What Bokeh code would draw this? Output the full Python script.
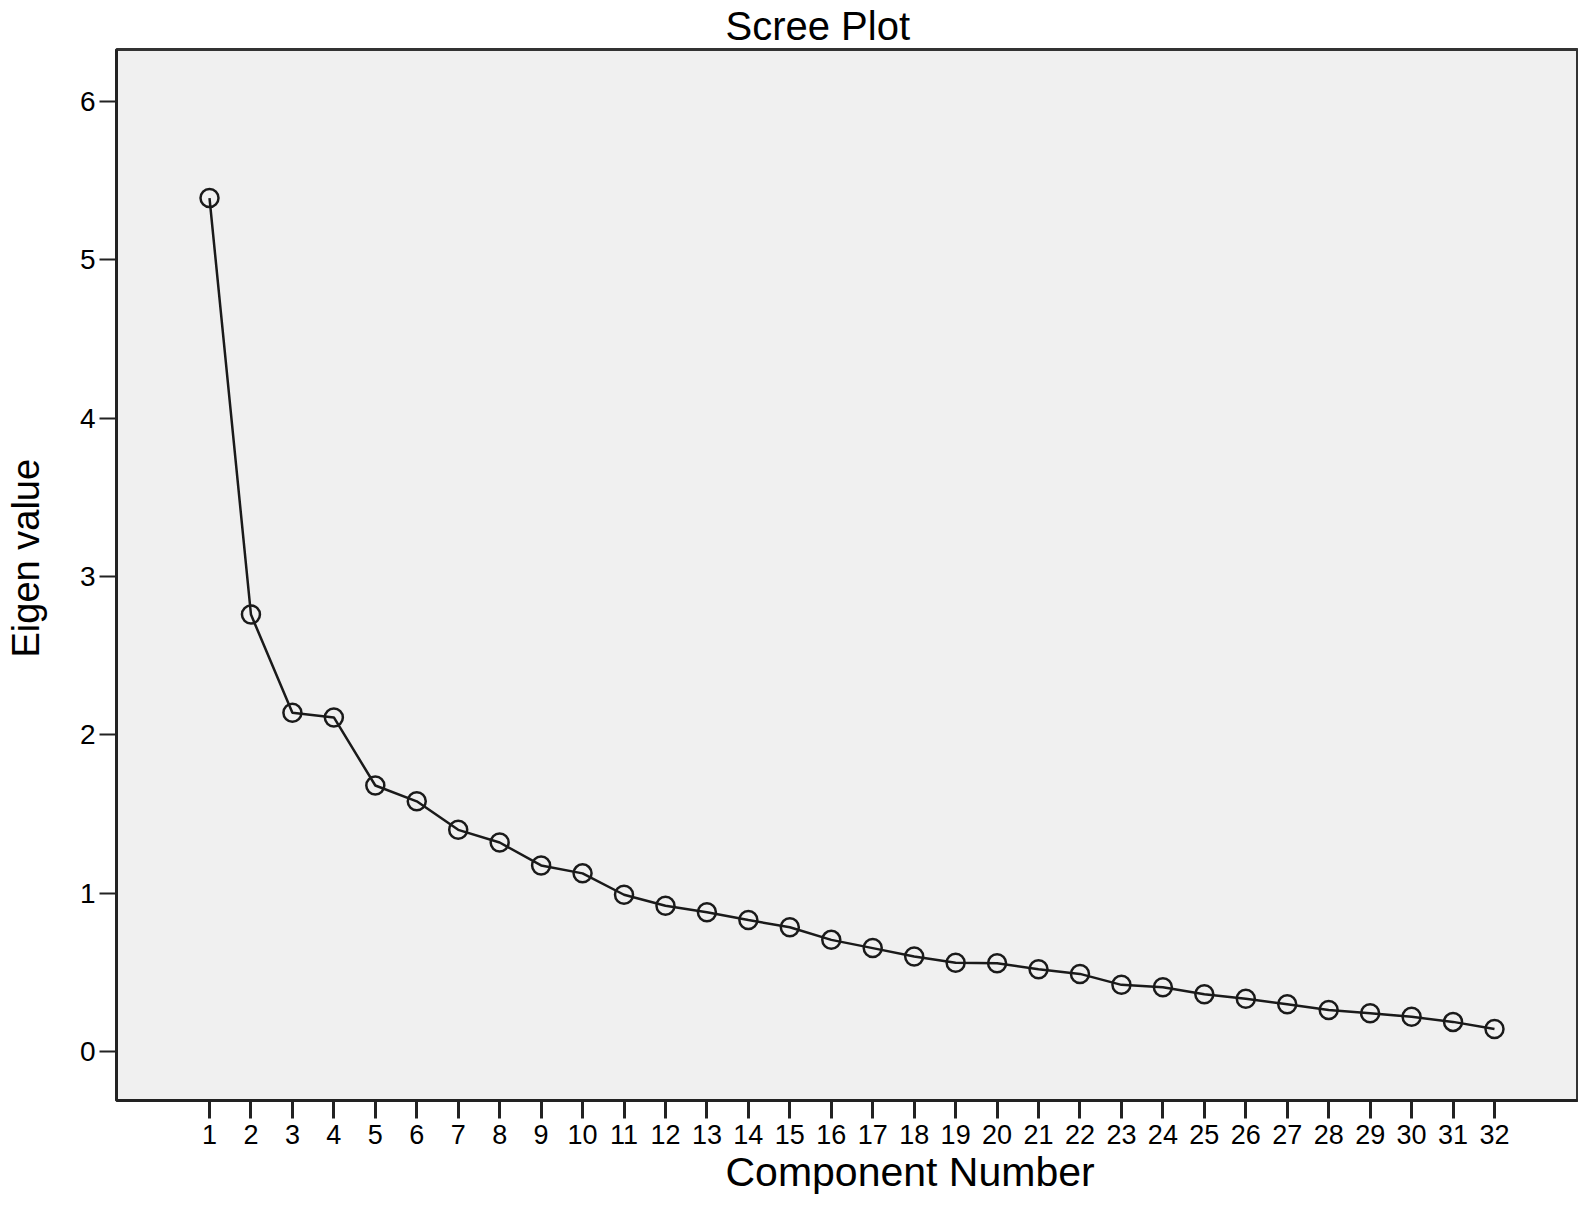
from bokeh.plotting import figure
from bokeh.models import FixedTicker, Range1d, Title, ColumnDataSource
from bokeh.embed import file_html
from bokeh.resources import INLINE

components = list(range(1, 33))
eigenvalues = [5.39, 2.76, 2.14, 2.11, 1.68, 1.58, 1.40, 1.32, 1.175, 1.125,
               0.99, 0.92, 0.88, 0.83, 0.785, 0.705, 0.653, 0.60, 0.56, 0.558,
               0.52, 0.49, 0.421, 0.406, 0.362, 0.333, 0.298, 0.262, 0.242,
               0.219, 0.187, 0.142]
y_ticks = [0, 1, 2, 3, 4, 5, 6]
title_text = "Scree Plot"
x_label = "Component Number"
y_label = "Eigen value"

FONT = "Liberation Sans"

p = figure(width=1578, height=1203, output_backend="svg", toolbar_location=None,
           x_range=Range1d(-1.2437, 34.0024), y_range=Range1d(-0.3095, 6.3284),
           min_border_left=116, min_border_right=1, min_border_top=49,
           min_border_bottom=103)

p.background_fill_color = "#f0f0f0"
p.border_fill_color = "white"
p.outline_line_color = "#333333"
p.outline_line_width = 3
p.grid.visible = False

src = ColumnDataSource(dict(x=components, y=eigenvalues))
p.line("x", "y", source=src, line_color="#1a1a1a", line_width=2.5)
p.scatter("x", "y", source=src, marker="circle", size=18, fill_color=None,
          line_color="#1a1a1a", line_width=2.5)

xa = p.xaxis[0]
xa.ticker = FixedTicker(ticks=components)
xa.minor_tick_line_color = None
xa.major_tick_out = 18
xa.major_tick_in = 0
xa.major_tick_line_width = 3
xa.major_tick_line_color = "#222222"
xa.axis_line_color = "#222222"
xa.axis_line_width = 3
xa.major_label_text_font = FONT
xa.major_label_text_font_size = "27px"
xa.major_label_text_color = "black"
xa.major_label_standoff = 6

ya = p.yaxis[0]
ya.ticker = FixedTicker(ticks=y_ticks)
ya.minor_tick_line_color = None
ya.major_tick_out = 17
ya.major_tick_in = 0
ya.major_tick_line_width = 2
ya.major_tick_line_color = "#222222"
ya.axis_line_color = "#222222"
ya.axis_line_width = 3
ya.major_label_text_font = FONT
ya.major_label_text_font_size = "28px"
ya.major_label_text_color = "black"
ya.major_label_standoff = 4

p.title.text = title_text
p.title.text_font = FONT
p.title.text_font_size = "40px"
p.title.text_font_style = "normal"
p.title.text_color = "black"
p.title.align = "left"
p.title.offset = 609
p.title.standoff = 0
p.title.vertical_align = "top"

p.add_layout(Title(text=x_label, text_font=FONT, text_font_size="41px",
                   text_font_style="normal", text_color="black",
                   align="left", offset=609, standoff=0,
                   vertical_align="bottom"), "below")
# spacing between the y tick labels and the y-axis label
p.add_layout(Title(text="\u00a0", text_font=FONT, text_font_size="25px",
                   standoff=0), "left")
p.add_layout(Title(text=y_label, text_font=FONT, text_font_size="38px",
                   text_font_style="normal", text_color="black",
                   align="left", offset=443, standoff=0), "left")

open("out.html", "w").write(file_html(p, INLINE))
